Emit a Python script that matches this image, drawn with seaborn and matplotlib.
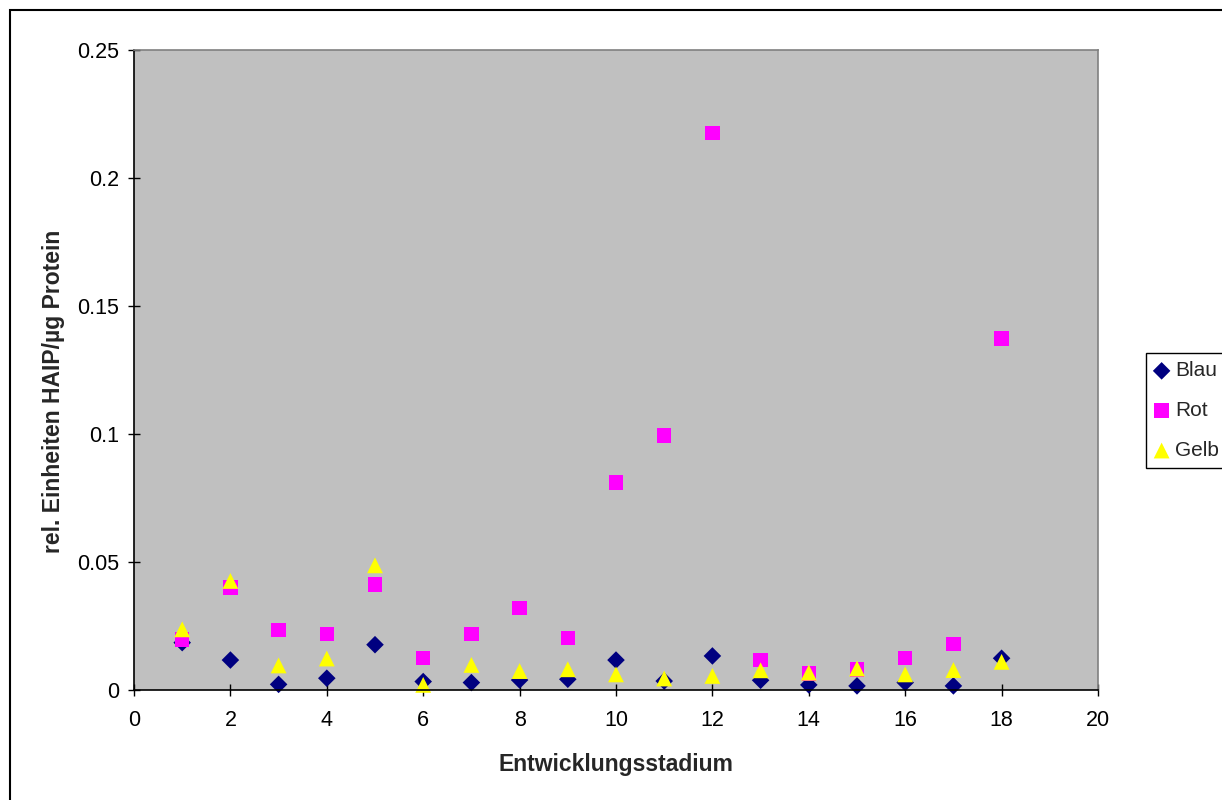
import matplotlib
matplotlib.use("Agg")
import matplotlib.pyplot as plt
from matplotlib.patches import Rectangle
import seaborn as sns
import pandas as pd

stadium = list(range(1, 19))
blau = [0.0185, 0.0117, 0.0022, 0.0046, 0.0177, 0.0033, 0.0029, 0.0039, 0.0042,
        0.0117, 0.0035, 0.0133, 0.0038, 0.0020, 0.0016, 0.0029, 0.0016, 0.0124]
rot = [0.0198, 0.0400, 0.0234, 0.0218, 0.0413, 0.0125, 0.0218, 0.0320, 0.0203,
       0.0811, 0.0995, 0.2175, 0.0117, 0.0064, 0.0080, 0.0125, 0.0180, 0.1372]
gelb = [0.0237, 0.0426, 0.0096, 0.0123, 0.0487, 0.0020, 0.0098, 0.0074, 0.0081,
        0.0061, 0.0045, 0.0055, 0.0077, 0.0068, 0.0084, 0.0061, 0.0078, 0.0110]
series_names = ["Blau", "Rot", "Gelb"]
x_ticks = list(range(0, 21, 2))
y_ticks = [0, 0.05, 0.1, 0.15, 0.2, 0.25]
y_ticklabels = ["0", "0.05", "0.1", "0.15", "0.2", "0.25"]

df = pd.DataFrame({
    "Entwicklungsstadium": stadium * 3,
    "Wert": blau + rot + gelb,
    "Serie": [series_names[0]] * 18 + [series_names[1]] * 18 + [series_names[2]] * 18,
})

sns.set_theme(style="white")
plt.rcParams["font.family"] = ["Liberation Sans", "DejaVu Sans"]

fig = plt.figure(figsize=(12.22, 8.0), dpi=100)
ax = fig.add_axes([134 / 1222, 1 - 690 / 800, (1098 - 134) / 1222, (690 - 50) / 800])
ax.set_facecolor("#C0C0C0")

styles = {
    "Blau": dict(color="#000080", marker="D", s=80),
    "Rot": dict(color="#FF00FF", marker="s", s=110),
    "Gelb": dict(color="#FFFF00", marker="^", s=130),
}
for name in series_names:
    st = styles[name]
    sns.scatterplot(data=df[df["Serie"] == name], x="Entwicklungsstadium", y="Wert",
                    color=st["color"], marker=st["marker"], s=st["s"],
                    linewidth=0, edgecolor="none", label=name, ax=ax, clip_on=False)

ax.set_xlim(0, 20)
ax.set_ylim(0, 0.25)
ax.set_xticks(x_ticks)
ax.set_xticklabels([str(v) for v in x_ticks])
ax.set_yticks(y_ticks)
ax.set_yticklabels(y_ticklabels)
ax.tick_params(axis="both", which="major", direction="inout", length=9, width=1,
               color="black", labelsize=15.5, labelcolor="black", left=True, bottom=True)
ax.tick_params(axis="x", pad=10)
ax.tick_params(axis="y", pad=6)

for side in ["left", "bottom"]:
    ax.spines[side].set_color("black")
    ax.spines[side].set_linewidth(1.2)
for side in ["top", "right"]:
    ax.spines[side].set_visible(True)
    ax.spines[side].set_color("#808080")
    ax.spines[side].set_linewidth(1.2)

ax.set_xlabel("Entwicklungsstadium", fontsize=16.5, fontweight="bold", labelpad=16)
ax.set_ylabel("rel. Einheiten HAIP/µg Protein", fontsize=16.5, fontweight="bold")
ax.yaxis.set_label_coords(-0.072, 0.467)

leg = ax.legend(loc="upper left", bbox_to_anchor=(1146 / 1222, 1 - 353 / 800),
                bbox_transform=fig.transFigure, fontsize=15, frameon=True, fancybox=False,
                edgecolor="black", facecolor="white", framealpha=1, borderpad=0.4,
                labelspacing=1.0, handlelength=0.7, handletextpad=0.3, borderaxespad=0)
leg.get_frame().set_linewidth(1.0)

fig.patches.append(Rectangle((10 / 1222, -0.1), 1.2, 1 - 10 / 800 + 0.1,
                             transform=fig.transFigure, fill=False,
                             edgecolor="black", linewidth=1.5, zorder=-1))

fig.savefig("out.png", dpi=100)
